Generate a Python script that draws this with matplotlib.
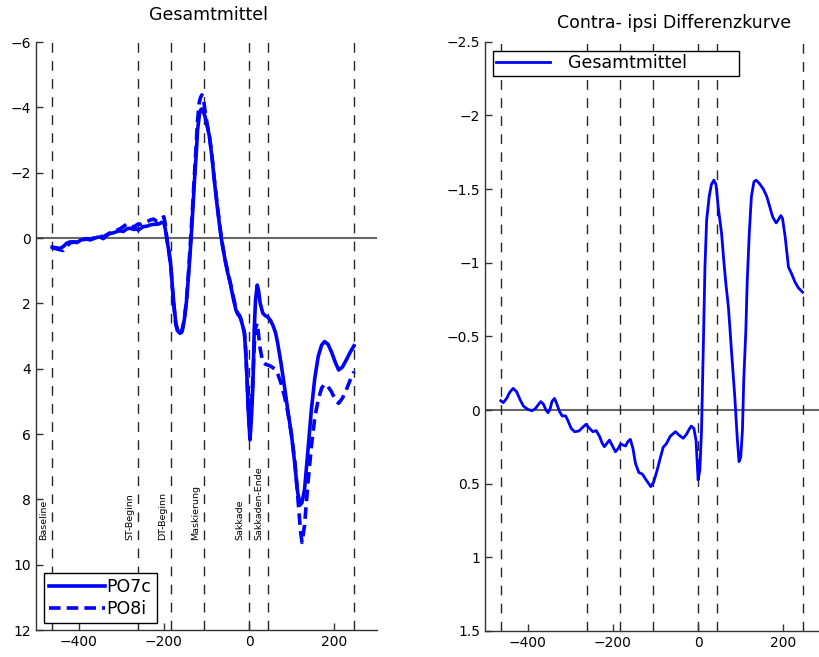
import numpy as np
import matplotlib
matplotlib.use('Agg')
import matplotlib.pyplot as plt

plt.rcParams['font.family'] = ['DejaVu Sans']

# Zeitachse und Ereignisse
events = [-462, -260, -183, -106, 0, 44, 246]
event_labels = ['Baseline', 'ST-Beginn', 'DT-Beginn', 'Maskierung', 'Sakkade', 'Sakkaden-Ende']

# Gesamtmittel PO7c / PO8i
t_left = [-462, -452, -444, -436, -428, -420, -412, -404, -397, -389, -381, -373, -365, -357,
          -350, -342, -334, -326, -318, -310, -303, -295, -287, -279, -271, -264, -260, -254,
          -248, -240, -232, -224, -216, -210, -205, -200, -197, -194, -191, -187, -183, -180,
          -176, -172, -167, -162, -157, -152, -147, -143, -140, -136, -132, -128, -124, -121,
          -117, -114, -111, -108, -103, -98, -93, -87, -82, -76, -70, -66, -62, -56, -50, -44,
          -38, -31, -26, -23, -19, -15, -11, -8, -5, -2, 2, 5, 9, 12, 15, 19, 22, 26, 32, 38,
          44, 50, 56, 62, 67, 75, 83, 91, 99, 107, 114, 120, 124, 130, 138, 146, 154, 162, 170,
          177, 185, 193, 202, 210, 219, 228, 237, 246]
po7c = [0.28, 0.30, 0.32, 0.26, 0.16, 0.12, 0.12, 0.14, 0.08, 0.04, 0.03, 0.06, 0.02, -0.02,
        -0.03, 0.02, -0.08, -0.14, -0.16, -0.20, -0.22, -0.20, -0.28, -0.30, -0.26, -0.28, -0.24, -0.30,
        -0.35, -0.36, -0.40, -0.42, -0.42, -0.44, -0.48, -0.46, -0.30, -0.05, 0.20, 0.50, 0.95, 1.50,
        2.10, 2.60, 2.85, 2.92, 2.80, 2.50, 1.95, 1.30, 0.75, 0.00, -0.90, -1.80, -2.60, -3.30,
        -3.75, -3.92, -3.95, -3.90, -3.70, -3.40, -3.10, -2.45, -1.80, -1.10, -0.45, -0.05, 0.27, 0.70, 1.08, 1.40,
        1.80, 2.20, 2.35, 2.38, 2.50, 2.70, 2.92, 3.50, 4.30, 5.30, 6.18, 5.60, 4.50, 2.80, 1.90, 1.44, 1.60, 2.00, 2.30, 2.38,
        2.42, 2.52, 2.68, 2.90, 3.22, 3.85, 4.55, 5.30, 5.98, 6.90, 7.80, 8.17, 8.10, 7.70, 6.50, 5.26, 4.30, 3.63, 3.28,
        3.17, 3.25, 3.48, 3.80, 4.04, 3.95, 3.73, 3.50, 3.30]
po8i = [0.30, 0.33, 0.36, 0.38, 0.25, 0.15, 0.13, 0.12, 0.10, 0.06, 0.02, 0.04, 0.00, -0.02,
        -0.06, -0.04, -0.10, -0.16, -0.22, -0.24, -0.28, -0.35, -0.43, -0.40, -0.33, -0.40, -0.43, -0.42,
        -0.45, -0.50, -0.55, -0.58, -0.50, -0.52, -0.60, -0.65, -0.45, -0.10, 0.20, 0.55, 1.00, 1.55,
        2.15, 2.65, 2.90, 2.97, 2.85, 2.50, 1.90, 1.20, 0.60, -0.20, -1.10, -2.00, -2.90, -3.60,
        -4.15, -4.30, -4.38, -4.35, -3.85, -3.45, -3.10, -2.50, -1.85, -1.15, -0.50, -0.10, 0.25, 0.68, 1.05, 1.38,
        1.75, 2.15, 2.32, 2.36, 2.48, 2.68, 2.90, 3.45, 4.25, 5.20, 6.10, 5.40, 4.20, 3.30, 2.75, 2.61, 2.95, 3.40, 3.79, 3.86,
        3.89, 3.92, 3.97, 4.04, 4.15, 4.45, 4.85, 5.35, 6.00, 6.80, 7.90, 8.90, 9.32, 8.80, 7.50, 6.39, 5.50, 4.96, 4.60,
        4.47, 4.55, 4.70, 4.95, 5.06, 4.90, 4.65, 4.35, 4.09]

# Contra- ipsi Differenzkurve
t_right = [-463, -457, -449, -442, -434, -426, -418, -410, -400, -390, -382, -374, -369, -363,
           -357, -352, -347, -343, -337, -332, -325, -319, -311, -306, -298, -290, -280, -271,
           -263, -255, -247, -239, -231, -225, -220, -214, -208, -202, -194, -187, -182, -176,
           -170, -165, -159, -153, -147, -139, -131, -123, -111, -104, -96, -89, -82, -75, -65,
           -53, -45, -35, -27, -21, -16, -10, -5, -2, 0, 4, 8, 13, 16, 20, 26, 31, 37, 42, 47,
           55, 60, 65, 71, 75, 78, 86, 92, 96, 100, 104, 107, 112, 115, 120, 125, 131, 136, 143,
           153, 161, 167, 175, 183, 188, 194, 198, 204, 212, 220, 227, 235, 245]
diff = [-0.063, -0.05, -0.08, -0.12, -0.147, -0.125, -0.072, -0.027, -0.005, 0.005, -0.009, -0.04, -0.057, -0.04,
        0.0, 0.018, -0.01, -0.057, -0.079, -0.045, 0.011, 0.04, 0.04, 0.068, 0.124, 0.147, 0.143, 0.118,
        0.097, 0.124, 0.147, 0.14, 0.181, 0.226, 0.249, 0.226, 0.204, 0.238, 0.283, 0.26, 0.231, 0.238,
        0.244, 0.215, 0.199, 0.26, 0.362, 0.425, 0.434, 0.47, 0.52, 0.487, 0.407, 0.328, 0.253, 0.231, 0.177,
        0.147, 0.17, 0.192, 0.163, 0.131, 0.109, 0.124, 0.204, 0.362, 0.475, 0.407, 0.136, -0.543, -0.97, -1.29, -1.45, -1.53, -1.56, -1.53, -1.38,
        -1.2, -1.02, -0.86, -0.70, -0.54, -0.41, -0.09, 0.2, 0.35, 0.32, 0.136, -0.2, -0.543, -0.86, -1.2, -1.45, -1.55, -1.56, -1.54,
        -1.5, -1.45, -1.39, -1.31, -1.27, -1.29, -1.32, -1.3, -1.18, -0.97, -0.92, -0.87, -0.83, -0.80]

blue = (0, 0, 1)
fig = plt.figure(figsize=(8.19, 6.57), dpi=100)
ax1 = fig.add_axes([36 / 819, 27 / 657, 341 / 819, 588 / 657])
ax2 = fig.add_axes([485 / 819, 26 / 657, 341 / 819, 589.3 / 657])


def style_axis(ax):
    for s in ['top', 'right']:
        ax.spines[s].set_visible(False)
    for s in ['left', 'bottom']:
        ax.spines[s].set_color('0.2')
        ax.spines[s].set_linewidth(1.0)
    ax.tick_params(direction='in', length=5, width=1, color='0.2', labelsize=10)
    ax.axhline(0, color='0.4', lw=1.5, zorder=1)
    for e in events:
        ax.axvline(e, color='0.15', lw=1.0, dashes=(7, 6), zorder=1)
    ax.set_xlim(-500, 300)
    ax.set_xticks([-400, -200, 0, 200])


# linke Seite
style_axis(ax1)
ax1.plot(t_left, po7c, color=blue, lw=2.6, label='PO7c', zorder=3)
ax1.plot(t_left, po8i, color=blue, lw=2.6, dashes=(3.2, 1.7), label='PO8i', zorder=3)
ax1.set_ylim(12, -6)
ax1.set_yticks(np.arange(-6, 13, 2))
for e, lab in zip(events[:-1], event_labels):
    ax1.text(e - 10, 9.25, lab, rotation=90, fontsize=6.8, ha='right', va='bottom')
leg1 = ax1.legend(loc='lower left', bbox_to_anchor=(0.0235, 0.012), borderaxespad=0,
                  fontsize=12.5, handlelength=3.2, handletextpad=0.1, labelspacing=0.2,
                  borderpad=0.3, fancybox=False, framealpha=1, edgecolor='k')
leg1.get_frame().set_linewidth(1.0)
fig.text(208 / 819, 1 - 15 / 657, 'Gesamtmittel', fontsize=12.5, ha='center', va='center')

# rechte Seite
style_axis(ax2)
ax2.plot(t_right, diff, color=blue, lw=2.0, label='Gesamtmittel', zorder=3)
ax2.set_ylim(1.5, -2.5)
ax2.set_yticks([-2.5, -2, -1.5, -1, -0.5, 0, 0.5, 1, 1.5])
ax2.set_yticklabels(['\u22122.5', '\u22122', '\u22121.5', '\u22121', '\u22120.5', '0', '0.5', '1', '1.5'])
leg2 = ax2.legend(loc='lower left', bbox_to_anchor=(0.0235, 0.942, 0.721, 0.044), mode='expand',
                  borderaxespad=0, fontsize=12.5, handlelength=3.1, handletextpad=1.0,
                  borderpad=0.2, fancybox=False, framealpha=1, edgecolor='k')
leg2.get_frame().set_linewidth(1.0)
fig.text(674 / 819, 1 - 23 / 657, 'Contra- ipsi Differenzkurve', fontsize=12.5, ha='center', va='center')

fig.savefig('out.png', dpi=100)
